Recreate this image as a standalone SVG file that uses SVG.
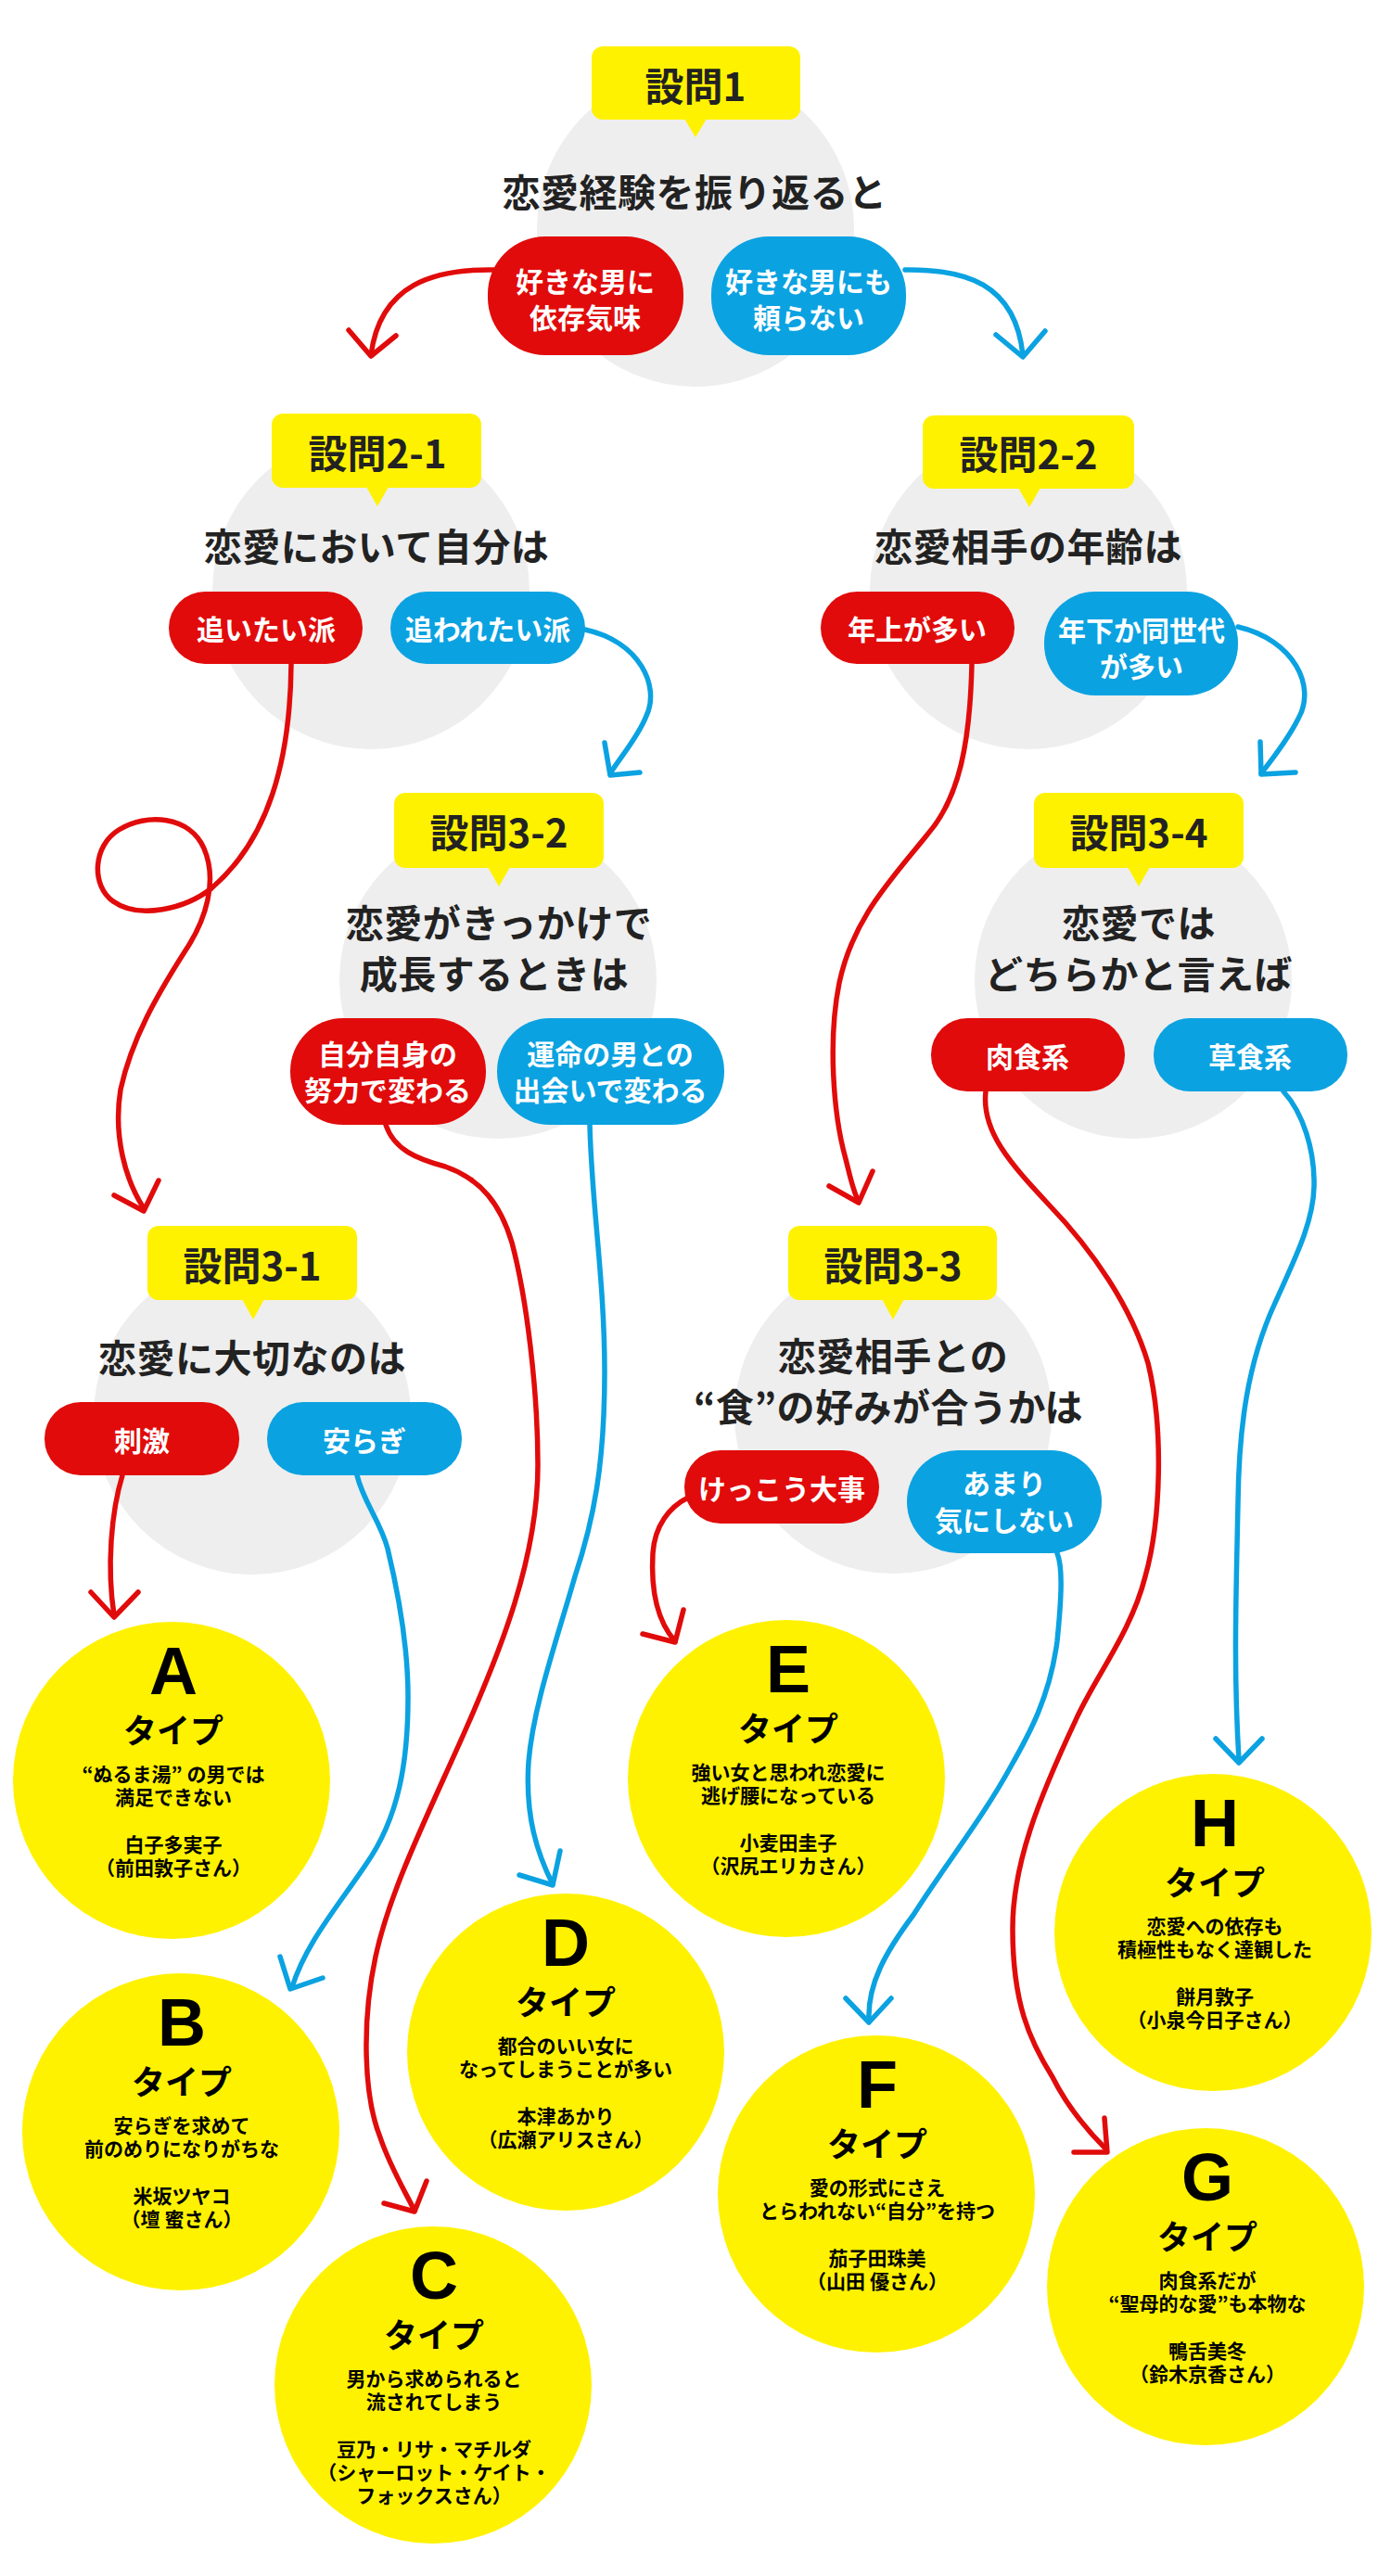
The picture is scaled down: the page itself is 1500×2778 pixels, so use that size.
<svg xmlns="http://www.w3.org/2000/svg" width="1500" height="2778" viewBox="0 0 1500 2778">
<style>
text{font-family:"Noto Sans CJK JP","Noto Sans CJK SC",sans-serif;font-weight:bold;text-anchor:middle;dominant-baseline:central}
.bg{fill:#EEEEEE}
.box{fill:#FFF200}
.title{font-size:42px;fill:#222}
.q{font-size:41px;fill:#222;letter-spacing:0.5px}
.red{fill:#E10B0B}
.blue{fill:#0BA2E1}
.pt{font-size:30px;fill:#fff}
.type{fill:#FFF200}
.head{dominant-baseline:alphabetic;fill:#000}
.letter{font-family:"Liberation Sans",Arial,sans-serif;font-size:72px}
.tp{font-family:"Noto Sans CJK JP","Noto Sans CJK SC",sans-serif;font-size:36px}
.desc{font-size:21px;fill:#000}
.c path,.c polyline{fill:none;stroke-width:5.5;stroke-linecap:round;stroke-linejoin:round}
.r{stroke:#E10B0B}
.b{stroke:#0BA2E1}
</style>

<g id="q1">
<circle class="bg" cx="750" cy="246" r="171"/>
<rect class="box" x="638" y="50" width="225" height="79" rx="12"/>
<polygon class="box" points="738,128 762,128 750,148"/>
<text class="title" x="750" y="90">設問1</text>
<text class="q" x="749" y="205">恋愛経験を振り返ると</text>
<rect class="red" x="526" y="255" width="211" height="128" rx="62"/>
<text class="pt"><tspan x="631" y="302">好きな男に</tspan><tspan x="631" y="341">依存気味</tspan></text>
<rect class="blue" x="767" y="255" width="210" height="128" rx="62"/>
<text class="pt"><tspan x="872" y="302">好きな男にも</tspan><tspan x="872" y="341">頼らない</tspan></text>
</g>

<g id="q2-1">
<circle class="bg" cx="400" cy="637" r="171"/>
<rect class="box" x="293" y="446" width="226" height="80" rx="12"/>
<polygon class="box" points="395,525 419,525 407,546"/>
<text class="title" x="407" y="486">設問2-1</text>
<text class="q" x="406" y="587">恋愛において自分は</text>
<rect class="red" x="182" y="638" width="209" height="78" rx="39"/>
<text class="pt" x="287" y="677">追いたい派</text>
<rect class="blue" x="421" y="638" width="210" height="78" rx="39"/>
<text class="pt" x="526" y="677">追われたい派</text>
</g>

<g id="q2-2">
<circle class="bg" cx="1109" cy="637" r="171"/>
<rect class="box" x="995" y="448" width="228" height="79" rx="12"/>
<polygon class="box" points="1098,526 1122,526 1110,547"/>
<text class="title" x="1109" y="487">設問2-2</text>
<text class="q" x="1109" y="587">恋愛相手の年齢は</text>
<rect class="red" x="885" y="638" width="209" height="78" rx="39"/>
<text class="pt" x="989" y="677">年上が多い</text>
<rect class="blue" x="1126" y="638" width="209" height="112" rx="55"/>
<text class="pt"><tspan x="1231" y="678">年下か同世代</tspan><tspan x="1231" y="717">が多い</tspan></text>
</g>

<g id="q3-2">
<circle class="bg" cx="537" cy="1057" r="171"/>
<rect class="box" x="425" y="855" width="226" height="81" rx="12"/>
<polygon class="box" points="526,935 550,935 538,956"/>
<text class="title" x="538" y="895">設問3-2</text>
<text class="q"><tspan x="538" y="993">恋愛がきっかけで</tspan><tspan x="533" y="1048">成長するときは</tspan></text>
<rect class="red" x="313" y="1098" width="211" height="115" rx="57"/>
<text class="pt"><tspan x="418" y="1135">自分自身の</tspan><tspan x="418" y="1174">努力で変わる</tspan></text>
<rect class="blue" x="536" y="1098" width="245" height="115" rx="57"/>
<text class="pt"><tspan x="658" y="1135">運命の男との</tspan><tspan x="658" y="1174">出会いで変わる</tspan></text>
</g>

<g id="q3-4">
<circle class="bg" cx="1222" cy="1057" r="171"/>
<rect class="box" x="1115" y="855" width="226" height="81" rx="12"/>
<polygon class="box" points="1216,935 1240,935 1228,956"/>
<text class="title" x="1228" y="895">設問3-4</text>
<text class="q"><tspan x="1228" y="993">恋愛では</tspan><tspan x="1228" y="1048">どちらかと言えば</tspan></text>
<rect class="red" x="1004" y="1098" width="209" height="79" rx="39"/>
<text class="pt" x="1108" y="1138">肉食系</text>
<rect class="blue" x="1244" y="1098" width="209" height="79" rx="39"/>
<text class="pt" x="1348" y="1138">草食系</text>
</g>

<g id="q3-1">
<circle class="bg" cx="272" cy="1527" r="171"/>
<rect class="box" x="159" y="1322" width="226" height="80" rx="12"/>
<polygon class="box" points="261,1401 285,1401 273,1423"/>
<text class="title" x="272" y="1362">設問3-1</text>
<text class="q" x="272" y="1462">恋愛に大切なのは</text>
<rect class="red" x="48" y="1512" width="210" height="79" rx="39"/>
<text class="pt" x="153" y="1552">刺激</text>
<rect class="blue" x="288" y="1512" width="210" height="79" rx="39"/>
<text class="pt" x="393" y="1552">安らぎ</text>
</g>

<g id="q3-3">
<circle class="bg" cx="963" cy="1526" r="171"/>
<rect class="box" x="850" y="1322" width="225" height="80" rx="12"/>
<polygon class="box" points="951,1401 975,1401 963,1423"/>
<text class="title" x="963" y="1362">設問3-3</text>
<text class="q"><tspan x="963" y="1460">恋愛相手との</tspan><tspan x="958" y="1515">“食”の好みが合うかは</tspan></text>
<rect class="red" x="738" y="1564" width="210" height="79" rx="39"/>
<text class="pt" x="843" y="1604">けっこう大事</text>
<rect class="blue" x="978" y="1564" width="210" height="111" rx="55"/>
<text class="pt"><tspan x="1083" y="1598">あまり</tspan><tspan x="1083" y="1638">気にしない</tspan></text>
</g>

<g id="typeA">
<circle class="type" cx="185" cy="1920" r="171"/>
<text class="head"><tspan class="letter" x="187" y="1827">A</tspan><tspan class="tp" x="187" y="1880">タイプ</tspan></text>
<text class="desc"><tspan x="187" y="1912">“ぬるま湯” の男では</tspan><tspan x="187" y="1937">満足できない</tspan><tspan x="187" y="1988">白子多実子</tspan><tspan x="187" y="2013">（前田敦子さん）</tspan></text>
</g>

<g id="typeB">
<circle class="type" cx="195" cy="2299" r="171"/>
<text class="head"><tspan class="letter" x="196" y="2206">B</tspan><tspan class="tp" x="196" y="2259">タイプ</tspan></text>
<text class="desc"><tspan x="196" y="2291">安らぎを求めて</tspan><tspan x="196" y="2316">前のめりになりがちな</tspan><tspan x="196" y="2367">米坂ツヤコ</tspan><tspan x="196" y="2392">（壇 蜜さん）</tspan></text>
</g>

<g id="typeC">
<circle class="type" cx="467" cy="2572" r="171"/>
<text class="head"><tspan class="letter" x="468" y="2479">C</tspan><tspan class="tp" x="468" y="2532">タイプ</tspan></text>
<text class="desc"><tspan x="468" y="2564">男から求められると</tspan><tspan x="468" y="2589">流されてしまう</tspan><tspan x="468" y="2640">豆乃・リサ・マチルダ</tspan><tspan x="468" y="2665">（シャーロット・ケイト・</tspan><tspan x="468" y="2690">フォックスさん）</tspan></text>
</g>

<g id="typeD">
<circle class="type" cx="610" cy="2213" r="171"/>
<text class="head"><tspan class="letter" x="610" y="2120">D</tspan><tspan class="tp" x="610" y="2173">タイプ</tspan></text>
<text class="desc"><tspan x="610" y="2205">都合のいい女に</tspan><tspan x="610" y="2230">なってしまうことが多い</tspan><tspan x="610" y="2281">本津あかり</tspan><tspan x="610" y="2306">（広瀬アリスさん）</tspan></text>
</g>

<g id="typeE">
<circle class="type" cx="848" cy="1918" r="171"/>
<text class="head"><tspan class="letter" x="850" y="1825">E</tspan><tspan class="tp" x="850" y="1878">タイプ</tspan></text>
<text class="desc"><tspan x="850" y="1910">強い女と思われ恋愛に</tspan><tspan x="850" y="1935">逃げ腰になっている</tspan><tspan x="850" y="1986">小麦田圭子</tspan><tspan x="850" y="2011">（沢尻エリカさん）</tspan></text>
</g>

<g id="typeF">
<circle class="type" cx="945" cy="2366" r="171"/>
<text class="head"><tspan class="letter" x="946" y="2273">F</tspan><tspan class="tp" x="946" y="2326">タイプ</tspan></text>
<text class="desc"><tspan x="946" y="2358">愛の形式にさえ</tspan><tspan x="946" y="2383">とらわれない“自分”を持つ</tspan><tspan x="946" y="2434">茄子田珠美</tspan><tspan x="946" y="2459">（山田 優さん）</tspan></text>
</g>

<g id="typeG">
<circle class="type" cx="1300" cy="2466" r="171"/>
<text class="head"><tspan class="letter" x="1302" y="2373">G</tspan><tspan class="tp" x="1302" y="2426">タイプ</tspan></text>
<text class="desc"><tspan x="1302" y="2458">肉食系だが</tspan><tspan x="1302" y="2483">“聖母的な愛”も本物な</tspan><tspan x="1302" y="2534">鴨舌美冬</tspan><tspan x="1302" y="2559">（鈴木京香さん）</tspan></text>
</g>

<g id="typeH">
<circle class="type" cx="1308" cy="2084" r="171"/>
<text class="head"><tspan class="letter" x="1310" y="1991">H</tspan><tspan class="tp" x="1310" y="2044">タイプ</tspan></text>
<text class="desc"><tspan x="1310" y="2076">恋愛への依存も</tspan><tspan x="1310" y="2101">積極性もなく達観した</tspan><tspan x="1310" y="2152">餅月敦子</tspan><tspan x="1310" y="2177">（小泉今日子さん）</tspan></text>
</g>

<g id="connectors" class="c">
<path class="r" d="M533,291 C470,290 410,305 400,383"/>
<polyline class="r" points="376,356 400,384 427,362"/>
<path class="b" d="M976,291 C1040,290 1095,305 1103,383"/>
<polyline class="b" points="1074,361 1103,385 1127,357"/>

<path class="b" d="M631,679 C690,692 712,740 697,772 C688,795 670,815 658,834"/>
<polyline class="b" points="652,801 658,836 690,833"/>
<path class="b" d="M1335,676 C1395,690 1420,740 1400,775 C1390,795 1375,815 1360,834"/>
<polyline class="b" points="1359,800 1360,835 1397,833"/>

<path class="r" d="M314,716 C313,820 290,905 228,958 C200,980 150,992 122,972 C98,955 100,912 128,895 C158,876 205,880 220,915 C235,950 222,992 200,1025 C170,1072 142,1120 130,1175 C122,1225 135,1272 155,1303"/>
<polyline class="r" points="123,1289 155,1306 171,1273"/>

<path class="r" d="M1048,716 C1046,800 1035,860 1000,900 C960,950 920,990 905,1060 C893,1120 898,1200 912,1250 C917,1270 920,1285 926,1296"/>
<polyline class="r" points="894,1279 926,1297 941,1263"/>

<path class="r" d="M132,1591 C120,1630 115,1690 123,1742"/>
<polyline class="r" points="98,1717 123,1744 149,1717"/>
<path class="b" d="M385,1591 C392,1620 410,1640 418,1670 C430,1720 440,1780 440,1830 C440,1900 430,1960 395,2010 C365,2055 330,2095 315,2143"/>
<polyline class="b" points="302,2110 313,2145 348,2133"/>

<path class="r" d="M416,1213 C425,1240 450,1250 480,1258 C520,1272 540,1300 552,1340 C568,1400 580,1500 580,1580 C580,1680 540,1780 500,1870 C460,1960 420,2040 405,2110 C390,2180 392,2260 410,2305 C420,2335 435,2360 447,2384"/>
<polyline class="r" points="414,2376 447,2385 460,2352"/>
<path class="b" d="M636,1213 C638,1300 652,1380 652,1480 C652,1580 640,1640 620,1700 C600,1770 575,1840 570,1900 C566,1960 580,2000 596,2032"/>
<polyline class="b" points="560,2022 596,2033 604,1996"/>

<path class="r" d="M742,1615 C722,1625 706,1645 704,1675 C702,1710 706,1745 728,1770"/>
<polyline class="r" points="693,1762 728,1771 737,1736"/>
<path class="b" d="M1140,1675 C1146,1690 1145,1720 1140,1770 C1132,1830 1110,1870 1090,1905 C1060,1960 1020,2010 985,2065 C955,2105 935,2140 937,2180"/>
<polyline class="b" points="912,2155 937,2181 961,2155"/>

<path class="r" d="M1063,1177 C1058,1220 1090,1255 1130,1298 C1180,1350 1220,1410 1238,1470 C1255,1540 1252,1640 1235,1700 C1220,1760 1180,1810 1160,1855 C1120,1940 1092,2010 1092,2080 C1092,2160 1110,2200 1135,2240 C1150,2270 1170,2295 1193,2318"/>
<polyline class="r" points="1191,2284 1194,2321 1158,2321"/>
<path class="b" d="M1384,1177 C1405,1200 1418,1240 1417,1280 C1416,1320 1395,1360 1375,1405 C1345,1470 1336,1540 1335,1620 C1333,1720 1330,1800 1336,1898"/>
<polyline class="b" points="1311,1875 1336,1901 1361,1875"/>
</g>
</svg>
